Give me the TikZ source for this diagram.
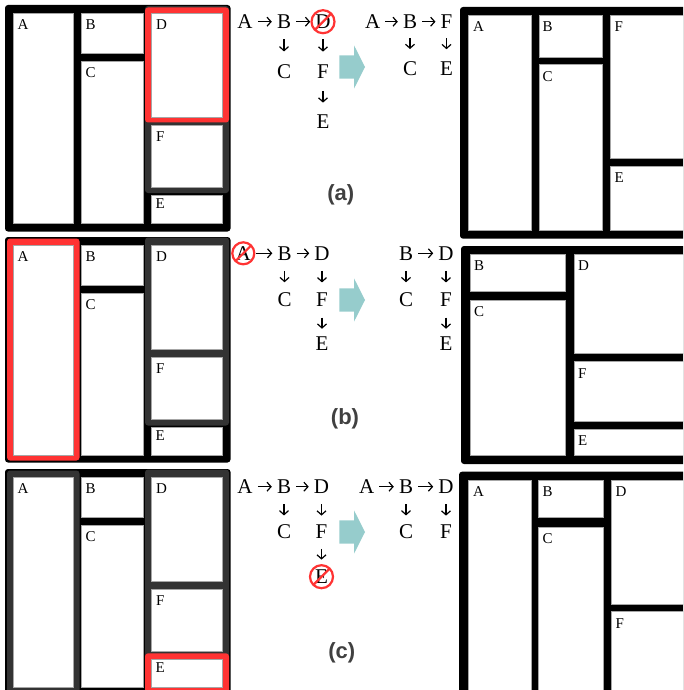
\documentclass[tikz,border=0pt]{standalone}
\usepackage{fontspec}
\setmainfont{Liberation Serif}
\newfontfamily\capfont{Liberation Sans}
\usetikzlibrary{arrows.meta}
\definecolor{hired}{RGB}{255,51,51}
\definecolor{frgray}{RGB}{51,51,51}
\definecolor{tealarr}{RGB}{150,204,204}
\definecolor{capgray}{RGB}{64,64,64}
\tikzset{
  panel/.style={fill=black, rounded corners=3pt},
  cell/.style={fill=white, draw=black!35, line width=0.6pt},
  redfr/.style={fill=hired, rounded corners=3pt},
  grayfr/.style={fill=frgray, rounded corners=3pt},
  cl/.style={anchor=north west, inner sep=0pt, font=\fontsize{15}{17}\selectfont},
  tn/.style={inner sep=0pt, font=\fontsize{21}{24}\selectfont},
  harr/.style={-{Straight Barb[length=4pt,width=9pt]}, line width=1.2pt, shorten <=5pt, shorten >=5pt},
  varr/.style={-{Straight Barb[length=4pt,width=9pt]}, line width=1.2pt, shorten <=10.5pt, shorten >=10.5pt},
  nosign/.style={draw=hired, line width=2.2pt},
  bigarr/.style={fill=tealarr},
  sublabel/.style={font=\capfont\bfseries\fontsize{22}{26}\selectfont, text=capgray}
}
\begin{document}
\begin{tikzpicture}[x=1pt,y=-1pt]
\clip (0,0) rectangle (683,690);%整幅图的范围
% (a)
\fill[panel] (5,5) rectangle (230.5,231.5);%左边的外框
\fill[grayfr] (145,6) rectangle (229,193);
\fill[redfr] (145,7.5) rectangle (229,122.5);%要删除的D
\draw[cell] (13.3,13.3) rectangle (73.7,223);
\draw[cell] (81.7,13.3) rectangle (143.7,53);
\draw[cell] (81.7,61) rectangle (143.7,223);
\draw[cell] (151,13.3) rectangle (222.7,117);
\draw[cell] (151,125) rectangle (222.7,187.7);
\draw[cell] (151,195) rectangle (222.7,223);
\node[cl] (a1A) at (17.5,19.8) {A};
\node[cl] (a1B) at (85.5,19.8) {B};
\node[cl] (a1C) at (85.5,67.5) {C};
\node[cl] (a1D) at (156,19.8) {D};
\node[cl] (a1F) at (156,131.5) {F};
\node[cl] (a1E) at (155.5,198.5) {E};
\node[tn] (aA) at (245,21.7) {A};
\node[tn] (aB) at (284,21.7) {B};
\node[tn] (aD) at (323,21.7) {D};
\node[tn] (aC) at (284,71.7) {C};
\node[tn] (aF) at (323,71.7) {F};
\node[tn] (aE) at (323,121.7) {E};
\draw[harr] (aA) -- (aB);
\draw[harr] (aB) -- (aD);
\draw[varr, shorten >=13pt] (aB) -- (aC);
\draw[varr, shorten >=13pt] (aD) -- (aF);
\draw[varr, shorten <=12pt, shorten >=12pt] (aF) -- (aE);
\draw[nosign] (aD.center) circle (11.5);
\draw[nosign] (aD.center) ++(8.1,-8.1) -- ++(-16.2,16.2);
\fill[bigarr] (339.3,55.3) -- (354,55.3) -- (354,45.3) -- (365,67) -- (354,88.7) -- (354,78.7) -- (339.3,78.7) -- cycle;
\node[tn] (aA2) at (372.7,21.7) {A};
\node[tn] (aB2) at (410,21.7) {B};
\node[tn] (aF2) at (446.5,21.7) {F};
\node[tn] (aC2) at (410,68.3) {C};
\node[tn] (aE2) at (446.5,68.3) {E};
\draw[harr] (aA2) -- (aB2);
\draw[harr] (aB2) -- (aF2);
\draw[varr, shorten <=9.5pt, shorten >=12pt] (aB2) -- (aC2);
\draw[varr, shorten <=9.5pt, shorten >=12pt] (aF2) -- (aE2);
\node[sublabel] (capa) at (340.7,195) {(a)};
\fill[panel] (460,7) rectangle (700,238.7);%右边的外框
\draw[cell] (468.3,15.7) rectangle (531.3,230);
\draw[cell] (539,15.7) rectangle (602.7,57);
\draw[cell] (539,64.7) rectangle (602.7,230);
\draw[cell] (610,15.7) rectangle (700,158.3);
\draw[cell] (610,166) rectangle (700,230);
\node[cl] (a2A) at (473,21.7) {A};
\node[cl] (a2B) at (542.5,21.7) {B};
\node[cl] (a2C) at (542.5,71.2) {C};
\node[cl] (a2F) at (614.5,21.7) {F};
\node[cl] (a2E) at (614.5,172.5) {E};
% (b)
\fill[panel] (5,237) rectangle (230.5,462.5);
\fill[redfr] (7,238.5) rectangle (79.5,460.5);%要删除的A
\fill[grayfr] (145,237.5) rectangle (229,425.5);
\draw[cell] (13.3,245.3) rectangle (73.7,455);
\draw[cell] (81.7,245.3) rectangle (143.7,285);
\draw[cell] (81.7,293) rectangle (143.7,455);
\draw[cell] (151,245.3) rectangle (222.7,349);
\draw[cell] (151,357) rectangle (222.7,419.7);
\draw[cell] (151,427) rectangle (222.7,455);
\node[cl] (b1A) at (17.5,251.8) {A};
\node[cl] (b1B) at (85.5,251.8) {B};
\node[cl] (b1C) at (85.5,299.5) {C};
\node[cl] (b1D) at (156,251.8) {D};
\node[cl] (b1F) at (156,363.5) {F};
\node[cl] (b1E) at (155.5,430.5) {E};
\node[tn] (bA) at (243.3,253.3) {A};
\node[tn] (bB) at (284.5,253.3) {B};
\node[tn] (bD) at (322,253.3) {D};
\node[tn] (bC) at (284.5,300) {C};
\node[tn] (bF) at (322,300) {F};
\node[tn] (bE) at (322,343.3) {E};
\draw[harr] (bA) -- (bB);
\draw[harr] (bB) -- (bD);
\draw[varr] (bB) -- (bC);
\draw[varr] (bD) -- (bF);
\draw[varr, shorten >=7.5pt] (bF) -- (bE);
\draw[nosign] (bA.center) circle (11);
\draw[nosign] (bA.center) ++(7.8,-7.8) -- ++(-15.6,15.6);
\fill[bigarr] (339.3,288.3) -- (354,288.3) -- (354,278.3) -- (365,300) -- (354,321.7) -- (354,311.7) -- (339.3,311.7) -- cycle;
\node[tn] (bB2) at (406,253.3) {B};
\node[tn] (bD2) at (446,253.3) {D};
\node[tn] (bC2) at (406,300) {C};
\node[tn] (bF2) at (446,300) {F};
\node[tn] (bE2) at (446,343.3) {E};
\draw[harr] (bB2) -- (bD2);
\draw[varr] (bB2) -- (bC2);
\draw[varr] (bD2) -- (bF2);
\draw[varr, shorten >=7.5pt] (bF2) -- (bE2);
\node[sublabel] (capb) at (345,419) {(b)};
\fill[panel] (461,246) rectangle (700,464);
\draw[cell] (470,254) rectangle (565.7,291.7);
\draw[cell] (470,300) rectangle (565.7,455.7);
\draw[cell] (574,254) rectangle (700,353.3);
\draw[cell] (574,361.7) rectangle (700,421);
\draw[cell] (574,429) rectangle (700,455.7);
\node[cl] (b2B) at (474,260.5) {B};
\node[cl] (b2C) at (474,306.5) {C};
\node[cl] (b2D) at (578,260.5) {D};
\node[cl] (b2F) at (578,368.2) {F};
\node[cl] (b2E) at (578,435) {E};
% (c)
\fill[panel] (5,469) rectangle (230.5,694);
\fill[grayfr] (7,470.5) rectangle (79.5,692.5);
\fill[grayfr] (145,469.5) rectangle (229,657.5);
\fill[redfr] (145,653.3) rectangle (229,694);%要删除的E
\draw[cell] (13.3,477.3) rectangle (73.7,687);
\draw[cell] (81.7,477.3) rectangle (143.7,517);
\draw[cell] (81.7,525) rectangle (143.7,687);
\draw[cell] (151,477.3) rectangle (222.7,581);
\draw[cell] (151,589) rectangle (222.7,651.7);
\draw[cell] (151,659) rectangle (222.7,687);
\node[cl] (c1A) at (17.5,483.8) {A};
\node[cl] (c1B) at (85.5,483.8) {B};
\node[cl] (c1C) at (85.5,531.5) {C};
\node[cl] (c1D) at (156,483.8) {D};
\node[cl] (c1F) at (156,595.5) {F};
\node[cl] (c1E) at (155.5,662.5) {E};
\node[tn] (cA) at (245,486.7) {A};
\node[tn] (cB) at (284,486.7) {B};
\node[tn] (cD) at (321.5,486.7) {D};
\node[tn] (cC) at (284,531.7) {C};
\node[tn] (cF) at (321.5,531.7) {F};
\node[tn] (cE) at (321.5,576.7) {E};
\draw[harr] (cA) -- (cB);
\draw[harr] (cB) -- (cD);
\draw[varr, shorten >=9pt] (cB) -- (cC);
\draw[varr, shorten >=9pt] (cD) -- (cF);
\draw[varr, shorten <=10pt, shorten >=10pt] (cF) -- (cE);
\draw[nosign] (cE.center) circle (11.5);
\draw[nosign] (cE.center) ++(8.1,-8.1) -- ++(-16.2,16.2);
\fill[bigarr] (339.3,520.3) -- (354,520.3) -- (354,510.3) -- (365,532) -- (354,553.7) -- (354,543.7) -- (339.3,543.7) -- cycle;
\node[tn] (cA2) at (366.7,486.7) {A};
\node[tn] (cB2) at (406,486.7) {B};
\node[tn] (cD2) at (446,486.7) {D};
\node[tn] (cC2) at (406,531.7) {C};
\node[tn] (cF2) at (446,531.7) {F};
\draw[harr] (cA2) -- (cB2);
\draw[harr] (cB2) -- (cD2);
\draw[varr, shorten >=9pt] (cB2) -- (cC2);
\draw[varr, shorten >=9pt] (cD2) -- (cF2);
\node[sublabel] (capc) at (341.7,653.3) {(c)};
\fill[panel] (459,471.7) rectangle (700,700);
\draw[cell] (468.3,480) rectangle (531,695);
\draw[cell] (538.3,480) rectangle (603.3,517.7);
\draw[cell] (538.3,527.3) rectangle (603.3,695);
\draw[cell] (611,480) rectangle (700,604.3);
\draw[cell] (611,611.7) rectangle (700,695);
\node[cl] (c2A) at (472.8,486) {A};
\node[cl] (c2B) at (542.3,486) {B};
\node[cl] (c2C) at (542.3,533.8) {C};
\node[cl] (c2D) at (615.5,486) {D};
\node[cl] (c2F) at (615.5,618.2) {F};
\end{tikzpicture}
\end{document}
